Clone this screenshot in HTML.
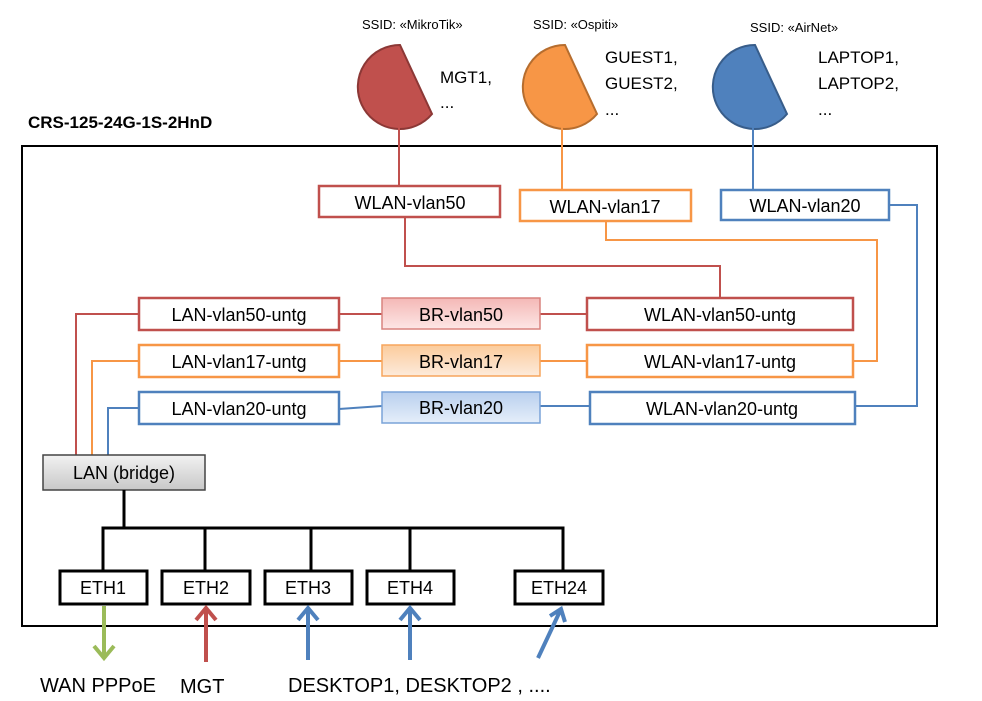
<!DOCTYPE html>
<html><head><style>body{margin:0;background:#fff}svg{display:block}text{font-family:"Liberation Sans",sans-serif}</style></head><body>
<svg width="982" height="701" viewBox="0 0 982 701" xmlns="http://www.w3.org/2000/svg">
<defs>
<linearGradient id="gr" x1="0" y1="0" x2="0" y2="1"><stop offset="0" stop-color="#f4b8b6"/><stop offset="1" stop-color="#fde6e5"/></linearGradient>
<linearGradient id="go" x1="0" y1="0" x2="0" y2="1"><stop offset="0" stop-color="#fbcb9c"/><stop offset="1" stop-color="#fdebdb"/></linearGradient>
<linearGradient id="gb" x1="0" y1="0" x2="0" y2="1"><stop offset="0" stop-color="#b9cfee"/><stop offset="1" stop-color="#e5eefa"/></linearGradient>
<linearGradient id="gg" x1="0" y1="0" x2="0" y2="1"><stop offset="0" stop-color="#f2f2f2"/><stop offset="1" stop-color="#c8c8c8"/></linearGradient>
</defs>
<text x="28" y="128" font-size="17" font-weight="bold">CRS-125-24G-1S-2HnD</text>
<rect x="22" y="146" width="915" height="480" fill="none" stroke="#000" stroke-width="2"/>
<g font-size="13">
<text x="362" y="29">SSID: «MikroTik»</text><text x="533" y="29">SSID: «Ospiti»</text><text x="750" y="32">SSID: «AirNet»</text></g>
<path d="M400,45 A42,42 0 1,0 432,114 Z" fill="#c0504d" stroke="#8c3836" stroke-width="2"/>
<path d="M565,45 A42,42 0 1,0 597,114 Z" fill="#f79646" stroke="#b66d2e" stroke-width="2"/>
<path d="M755,45 A42,42 0 1,0 787,114 Z" fill="#4f81bd" stroke="#385d8a" stroke-width="2"/>
<g font-size="17">
<text x="440" y="83">MGT1,</text><text x="440" y="108">...</text>
<text x="605" y="63">GUEST1,</text><text x="605" y="89">GUEST2,</text><text x="605" y="115">...</text>
<text x="818" y="63">LAPTOP1,</text><text x="818" y="89">LAPTOP2,</text><text x="818" y="115">...</text></g>
<g fill="none" stroke-width="2">
<path d="M399,127 V186" stroke="#c0504d"/><path d="M562,127 V190" stroke="#f79646"/><path d="M753,127 V190" stroke="#4f81bd"/>
<path d="M405,217 V266 H720 V298" stroke="#c0504d"/>
<path d="M606,221 V240 H877 V361 H853" stroke="#f79646"/>
<path d="M889,205 H917 V406 H855" stroke="#4f81bd"/>
<path d="M139,314 H76 V455 M339,314 H382 M540,314 H587" stroke="#c0504d"/>
<path d="M139,361 H92 V455 M339,361 H382 M540,361 H587" stroke="#f79646"/>
<path d="M139,408 H108 V455 M339,409 L382,406 M540,406 H590" stroke="#4f81bd"/>
</g>
<g stroke-width="2.5">
<rect x="319" y="186" width="181" height="31" fill="#fff" stroke="#c0504d"/>
<rect x="520" y="190" width="171" height="31" fill="#fff" stroke="#f79646"/>
<rect x="721" y="190" width="168" height="30" fill="#fff" stroke="#4f81bd"/>
<rect x="139" y="298" width="200" height="32" fill="#fff" stroke="#c0504d"/>
<rect x="587" y="298" width="266" height="32" fill="#fff" stroke="#c0504d"/>
<rect x="139" y="345" width="200" height="32" fill="#fff" stroke="#f79646"/>
<rect x="587" y="345" width="266" height="32" fill="#fff" stroke="#f79646"/>
<rect x="139" y="392" width="200" height="32" fill="#fff" stroke="#4f81bd"/>
<rect x="590" y="392" width="265" height="32" fill="#fff" stroke="#4f81bd"/>
</g>
<rect x="382" y="298" width="158" height="31" fill="url(#gr)" stroke="#d9837f" stroke-width="1.5"/>
<rect x="382" y="345" width="158" height="31" fill="url(#go)" stroke="#f7a55d" stroke-width="1.5"/>
<rect x="382" y="392" width="158" height="31" fill="url(#gb)" stroke="#7aa3d8" stroke-width="1.5"/>
<rect x="43" y="455" width="162" height="35" fill="url(#gg)" stroke="#444" stroke-width="1.5"/>
<g font-size="18" text-anchor="middle">
<text x="410" y="209">WLAN-vlan50</text><text x="605" y="213">WLAN-vlan17</text><text x="805" y="212">WLAN-vlan20</text>
<text x="239" y="321">LAN-vlan50-untg</text><text x="461" y="321">BR-vlan50</text><text x="720" y="321">WLAN-vlan50-untg</text>
<text x="239" y="368">LAN-vlan17-untg</text><text x="461" y="368">BR-vlan17</text><text x="720" y="368">WLAN-vlan17-untg</text>
<text x="239" y="415">LAN-vlan20-untg</text><text x="461" y="414">BR-vlan20</text><text x="722" y="415">WLAN-vlan20-untg</text>
<text x="124" y="479">LAN (bridge)</text></g>
<g fill="none" stroke="#000" stroke-width="3">
<path d="M124,490 V528 M103,570 V528 H563 V570 M205,528 V570 M311,528 V570 M410,528 V570"/>
</g>
<g fill="#fff" stroke="#000" stroke-width="3">
<rect x="60" y="571" width="87" height="33"/><rect x="162" y="571" width="88" height="33"/><rect x="265" y="571" width="87" height="33"/><rect x="367" y="571" width="87" height="33"/><rect x="515" y="571" width="88" height="33"/></g>
<g font-size="18" text-anchor="middle">
<text x="103" y="594">ETH1</text><text x="206" y="594">ETH2</text><text x="308" y="594">ETH3</text><text x="410" y="594">ETH4</text><text x="559" y="594">ETH24</text></g>
<g fill="none" stroke-width="4" stroke-linejoin="miter">
<path d="M104,606 V658 M94,646 L104,658 L114,646" stroke="#9bbb59"/>
<path d="M206,662 V608 M196,620 L206,608 L216,620" stroke="#c0504d"/>
<path d="M308,660 V608 M298,620 L308,608 L318,620" stroke="#4f81bd"/>
<path d="M410,660 V608 M400,620 L410,608 L420,620" stroke="#4f81bd"/>
<path d="M538,658 L561,609 M550,616 L561,609 L565,622" stroke="#4f81bd"/>
</g>
<g font-size="20"><text x="40" y="692">WAN PPPoE</text><text x="180" y="693">MGT</text><text x="288" y="692">DESKTOP1, DESKTOP2 , ....</text></g>
</svg>
</body></html>
